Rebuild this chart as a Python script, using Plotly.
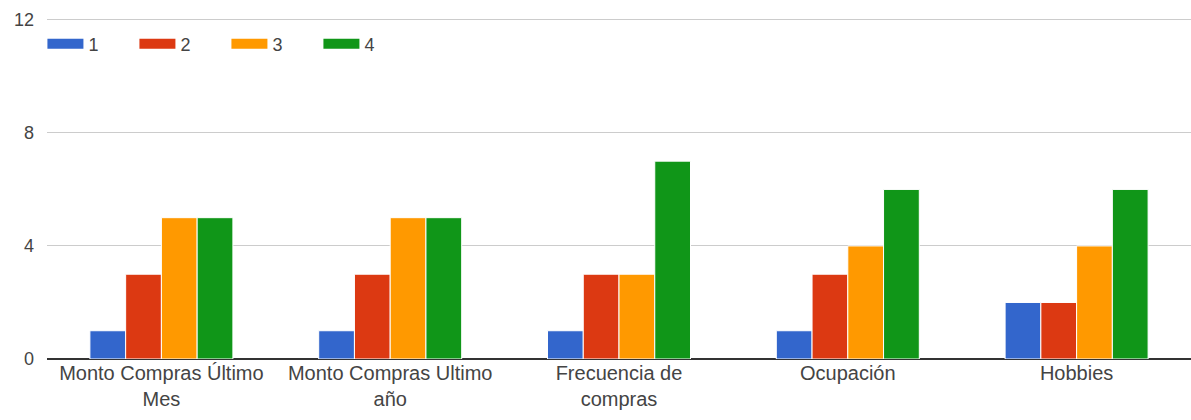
import plotly.graph_objects as go

categories = [
    "Monto Compras Último<br>Mes",
    "Monto Compras Ultimo<br>año",
    "Frecuencia de<br>compras",
    "Ocupación",
    "Hobbies",
]
series_names = ["1", "2", "3", "4"]
values_1 = [1, 1, 1, 1, 2]
values_2 = [3, 3, 3, 3, 2]
values_3 = [5, 5, 3, 4, 4]
values_4 = [5, 5, 7, 6, 6]
y_ticks = [0, 4, 8, 12]

colors = ["#3366CC", "#DC3912", "#FF9900", "#109618"]
all_values = [values_1, values_2, values_3, values_4]

fig = go.Figure()
for name, vals, col in zip(series_names, all_values, colors):
    fig.add_trace(go.Bar(
        x=categories, y=vals, name=name,
        marker=dict(color=col, line=dict(color="white", width=1)),
        showlegend=False,
    ))
    # wide legend swatch drawn as a thick line entry
    fig.add_trace(go.Scatter(
        x=[None], y=[None], mode="lines", name=name,
        line=dict(color=col, width=12),
        showlegend=True,
    ))

fig.update_layout(
    width=1191, height=420,
    margin=dict(l=47, r=0, t=17, b=61),
    paper_bgcolor="white", plot_bgcolor="white",
    font=dict(family="Liberation Sans, Arial, sans-serif", size=18, color="#444"),
    barmode="group", bargap=0.375, bargroupgap=0,
    showlegend=True,
    legend=dict(
        orientation="h", x=-0.004, xanchor="left", y=0.975, yanchor="top",
        font=dict(size=18, color="#444"),
        itemwidth=36, entrywidth=41, entrywidthmode="pixels",
        bgcolor="rgba(0,0,0,0)",
    ),
    xaxis=dict(
        showgrid=False, tickfont=dict(size=20, color="#444"),
        showline=False, ticks="",
    ),
    yaxis=dict(
        range=[0, 12.1], tickvals=y_ticks, showgrid=True, gridcolor="#cccccc",
        gridwidth=1, zeroline=True, zerolinecolor="#333333", zerolinewidth=1.5,
        tickfont=dict(size=18, color="#444"), ticks="", ticklabelstandoff=12,
    ),
)

fig.write_html("out.html")
